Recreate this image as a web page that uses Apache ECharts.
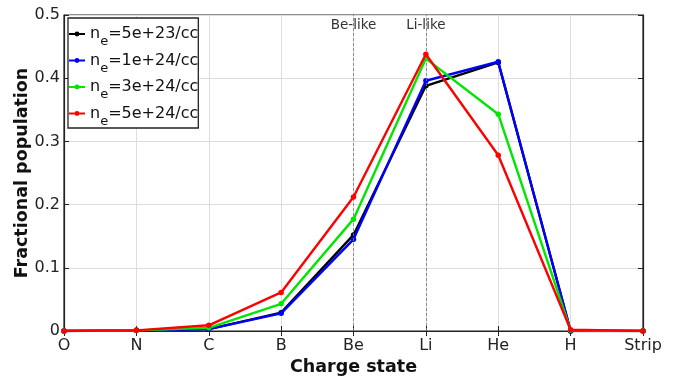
<!DOCTYPE html>
<html><head><meta charset="utf-8">
<script src="https://cdn.jsdelivr.net/npm/echarts@6/dist/echarts.min.js"></script>
<style>html,body{margin:0;padding:0;background:#fff}#c{width:674px;height:377px}</style>
</head><body><div id="c"></div>
<script>
const categories = ['O','N','C','B','Be','Li','He','H','Strip'];
const seriesNames = ['5e+23','1e+24','3e+24','5e+24'];
const ne5e23 = [0, 0.001, 0.003, 0.029, 0.152, 0.388, 0.425, 0.000, 0];
const ne1e24 = [0, 0.001, 0.003, 0.028, 0.145, 0.396, 0.426, 0.000, 0];
const ne3e24 = [0, 0.001, 0.005, 0.043, 0.177, 0.431, 0.343, 0.001, 0];
const ne5e24 = [0, 0.001, 0.009, 0.061, 0.212, 0.438, 0.278, 0.002, 0];
const colors = ['#000000','#0000ff','#00e600','#ff0000'];
const annotations = [['Be','Be-like'],['Li','Li-like']];
const yTicks = [0, 0.1, 0.2, 0.3, 0.4, 0.5];

const font = 'DejaVu Sans';
const chart = echarts.init(document.getElementById('c'));
const dataSets = [ne5e23, ne1e24, ne3e24, ne5e24];
const series = dataSets.map((d, i) => ({
  name: seriesNames[i],
  type: 'line',
  data: d,
  symbol: 'circle',
  symbolSize: 5.5,
  lineStyle: {width: 2.4, color: colors[i]},
  itemStyle: {color: colors[i]},
  z: 3 + i
}));
series[0].markLine = {
  silent: true, symbol: 'none',
  lineStyle: {type: [3, 2], color: '#777', width: 0.8},
  label: {show: false},
  data: annotations.map(a => ({xAxis: a[0]}))
};
series[0].markPoint = {
  symbol: 'circle', symbolSize: 0,
  label: {show: true, position: 'inside', color: '#333', fontFamily: font, fontSize: 13.5},
  data: annotations.map(a => ({coord: [a[0], 0.484], value: a[1]}))
};
chart.setOption({
  animation: false,
  textStyle: {fontFamily: font},
  grid: {left: 64, right: 31, top: 15, bottom: 46, outerBoundsMode: 'none', containLabel: false,
    show: true, borderColor: '#222', borderWidth: 1.2, backgroundColor: 'transparent'},
  legend: {
    orient: 'vertical', left: 68, top: 18,
    backgroundColor: '#fff', borderColor: '#222', borderWidth: 1.3,
    padding: [8, 0, 0, 0], itemGap: 4, itemWidth: 16, itemHeight: 6,
    data: seriesNames,
    formatter: n => '{a|n}{s|e}{a|=' + n + '/cc}',
    textStyle: {fontFamily: font, color: '#111', fontSize: 16,
      rich: {a: {fontSize: 16, fontFamily: font, color: '#111', height: 20}, s: {fontSize: 13, fontFamily: font, color: '#111', padding: [16, 0, 0, 0]}}}
  },
  xAxis: [{
    type: 'category', data: categories, boundaryGap: false,
    name: 'Charge state', nameLocation: 'middle', nameGap: 26,
    nameTextStyle: {fontFamily: font, fontWeight: 'bold', fontSize: 17.5, color: '#111'},
    axisLine: {lineStyle: {color: '#222', width: 1.2}},
    axisTick: {inside: true, length: 5, lineStyle: {color: '#222'}},
    axisLabel: {fontFamily: font, fontSize: 16, color: '#222', margin: 7},
    splitLine: {show: true, lineStyle: {color: '#ddd', width: 1}}
  }, {
    type: 'category', data: categories, boundaryGap: false, position: 'top',
    axisLine: {lineStyle: {color: '#222', width: 1.2}},
    axisTick: {inside: true, length: 5, lineStyle: {color: '#222'}},
    axisLabel: {show: false}, splitLine: {show: false}
  }],
  yAxis: [{
    type: 'value', min: 0, max: 0.5, interval: 0.1,
    name: 'Fractional population', nameLocation: 'middle', nameGap: 33, nameMoveOverlap: false,
    nameTextStyle: {fontFamily: font, fontWeight: 'bold', fontSize: 17.5, color: '#111'},
    axisLine: {show: true, lineStyle: {color: '#222', width: 1.2}},
    axisTick: {show: true, inside: true, length: 5, lineStyle: {color: '#222'}},
    axisLabel: {fontFamily: font, fontSize: 16, color: '#222', margin: 4,
      formatter: v => yTicks.includes(Math.round(v * 10) / 10) ? String(Math.round(v * 10) / 10) : ''},
    splitLine: {show: true, lineStyle: {color: '#ddd', width: 1}}
  }, {
    type: 'value', min: 0, max: 0.5, interval: 0.1, position: 'right',
    axisLine: {show: true, lineStyle: {color: '#222', width: 1.2}},
    axisTick: {show: true, inside: true, length: 5, lineStyle: {color: '#222'}},
    axisLabel: {show: false}, splitLine: {show: false}
  }],
  series: series
});
</script></body></html>
